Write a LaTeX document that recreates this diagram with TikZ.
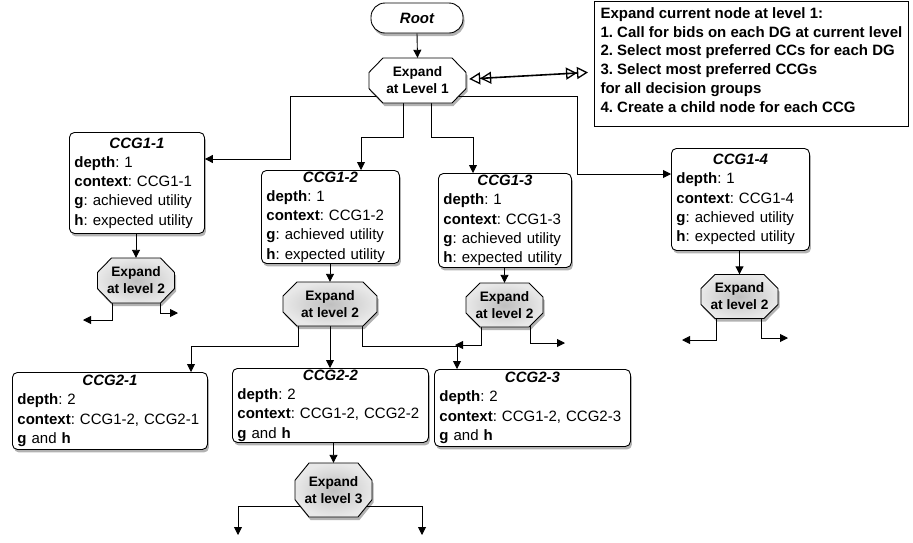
\documentclass[tikz,border=0pt]{standalone}
\usepackage{fontspec}
\setmainfont{Liberation Sans}
\usetikzlibrary{arrows.meta,shadows,backgrounds}
\frenchspacing

\tikzset{
  arr/.style={line width=0.9pt,-{Triangle[length=8pt,width=8pt]}},
  dbl/.style={line width=1.6pt,
    {Triangle[open,length=11pt,width=12pt,line width=1.3pt]Triangle[open,length=11pt,width=12pt,line width=1.3pt]}-{Triangle[open,length=11pt,width=12pt,line width=1.3pt]Triangle[open,length=11pt,width=12pt,line width=1.3pt]}},
  shad/.style={drop shadow={shadow xshift=1.5pt,shadow yshift=-3pt,opacity=0.3,fill=black}},
  ccg/.style={draw,line width=0.9pt,rounded corners=5pt,fill=white,shad,anchor=north west,
    align=left,inner xsep=5pt,inner ysep=1pt,font=\fontsize{15pt}{19.3pt}\selectfont},
  rootbox/.style={draw,line width=0.9pt,rounded corners=14pt,fill=white,shad,
    minimum width=92pt,minimum height=30pt,font=\fontsize{15pt}{18pt}\selectfont\bfseries\itshape},
  notebox/.style={draw,line width=0.8pt,anchor=north west,align=left,inner xsep=3pt,inner ysep=2pt,
    minimum width=314pt,minimum height=125pt,font=\fontsize{15pt}{18.8pt}\selectfont\bfseries},
  octline/.style={draw,line width=0.9pt,shad},
  octwhite/.style={fill=white},
  octgray/.style={inner color=gray!50,outer color=gray!18},
  octtext/.style={inner sep=0pt,align=center,font=\fontsize{13.7pt}{17pt}\selectfont\bfseries},
}

\newcommand\ttl[1]{\makebox[\linewidth]{\bfseries\itshape #1}\\}
% #1 fill style, #2 name, #3 cx, #4 cy, #5 w, #6 h, #7 text
\newcommand\octo[7]{%
  \pgfmathsetmacro\octhx{#5/2}%
  \pgfmathsetmacro\octhy{#6/2}%
  \pgfmathsetmacro\octcv{0.32*#6}%
  \path[octline,#1] ({#3-\octhx+14},{#4-\octhy}) -- ({#3+\octhx-14},{#4-\octhy})
    -- ({#3+\octhx},{#4-\octhy+\octcv}) -- ({#3+\octhx},{#4+\octhy-\octcv})
    -- ({#3+\octhx-14},{#4+\octhy}) -- ({#3-\octhx+14},{#4+\octhy})
    -- ({#3-\octhx},{#4+\octhy-\octcv}) -- ({#3-\octhx},{#4-\octhy+\octcv}) -- cycle;
  \node[octtext,minimum width=#5pt,minimum height=#6pt] (#2) at (#3,#4) {#7};
}

\begin{document}
\begin{tikzpicture}[x=1pt,y=-1pt]
\useasboundingbox (0,0) rectangle (913,542);

% root and level 1
\node[rootbox] (root) at (417,18) {Root};
\octo{octwhite}{e1}{417.5}{80.5}{97}{45}{Expand\\at Level 1}

\node[notebox] (note) at (594,1) {Expand current node at level 1:\\
1. Call for bids on each DG at current level\\
2. Select most preferred CCs for each DG\\
3. Select most preferred CCGs\\
for all decision groups\\
4. Create a child node for each CCG\\[-10.8pt]\mbox{}};

% level-1 children
\node[ccg,text width=125pt,minimum height=101pt] (c11) at (69,132)
  {\ttl{CCG1-1}\textbf{depth}: 1\\\textbf{context}: CCG1-1\\\textbf{g}: achieved utility\\\textbf{h}: expected utility};
\node[ccg,text width=128pt,minimum height=93pt] (c12) at (261,170)
  {\ttl{CCG1-2}\textbf{depth}: 1\\\textbf{context}: CCG1-2\\\textbf{g}: achieved utility\\\textbf{h}: expected utility};
\node[ccg,text width=123pt,minimum height=94pt] (c13) at (438,173)
  {\ttl{CCG1-3}\textbf{depth}: 1\\\textbf{context}: CCG1-3\\\textbf{g}: achieved utility\\\textbf{h}: expected utility};
\node[ccg,text width=128pt,minimum height=102pt] (c14) at (671,148)
  {\ttl{CCG1-4}\textbf{depth}: 1\\\textbf{context}: CCG1-4\\\textbf{g}: achieved utility\\\textbf{h}: expected utility};

% level-2 expansions
\octo{octgray}{o11}{136}{280.5}{77}{45}{Expand\\at level 2}
\octo{octgray}{o12}{330}{304}{94}{44}{Expand\\at level 2}
\octo{octgray}{o13}{504.5}{305}{77}{44}{Expand\\at level 2}
\octo{octgray}{o14}{739.5}{296.5}{77}{44}{Expand\\at level 2}

% level-2 children
\node[ccg,text width=185pt,minimum height=77pt] (c21) at (12,372)
  {\ttl{CCG2-1}\textbf{depth}: 2\\\textbf{context}: CCG1-2, CCG2-1\\\textbf{g} and \textbf{h}};
\node[ccg,text width=186pt,minimum height=74pt] (c22) at (232,368)
  {\ttl{CCG2-2}\textbf{depth}: 2\\\textbf{context}: CCG1-2, CCG2-2\\\textbf{g} and \textbf{h}};
\node[ccg,text width=186pt,minimum height=77pt] (c23) at (434,369)
  {\ttl{CCG2-3}\textbf{depth}: 2\\\textbf{context}: CCG1-2, CCG2-3\\\textbf{g} and \textbf{h}};

% level-3 expansion
\octo{octgray}{o3}{333.5}{490}{77}{54}{Expand\\at level 3}

% bend points and free ends
\coordinate (k1) at (290,159);
\coordinate (k2) at (361,137);
\coordinate (k3) at (473,137);
\coordinate (k4) at (577,174);
\coordinate (k5) at (191,346);
\coordinate (k6) at (457,346);
\coordinate (s11l) at (83,320);
\coordinate (s11r) at (178,313);
\coordinate (s13l) at (455,345);
\coordinate (s13r) at (565,343);
\coordinate (s14l) at (682,340);
\coordinate (s14r) at (788,338);
\coordinate (s3l) at (238,535);
\coordinate (s3r) at (422,535);

\begin{pgfonlayer}{background}
\draw[arr] (root.south) -- (e1.north);
\draw[dbl] ([xshift=3pt,yshift=1.5pt]e1.east) -- ([xshift=-6pt,yshift=-8.5pt]note.west);

\draw[arr] ([yshift=-15.5pt]e1.center) -| (k1) -- (c11.east |- k1);
\draw[arr] ([xshift=-14.5pt]e1.center) |- (k2) -- (k2 |- c12.north);
\draw[arr] ([xshift=13.5pt]e1.center) |- (k3) -- (k3 |- c13.north);
\draw[arr] ([yshift=-15.5pt]e1.center) -| (k4) -- (k4 -| c14.west);

\draw[arr] (o11.north |- c11.south) -- (o11.north);
\draw[arr] (o12.north |- c12.south) -- (o12.north);
\draw[arr] (o13.north |- c13.south) -- (o13.north);
\draw[arr] (o14.north |- c14.south) -- (o14.north);

\draw[arr] ([xshift=-24pt]o11.center) |- (s11l);
\draw[arr] ([xshift=24pt]o11.center) |- (s11r);

\draw[arr] ([xshift=-32pt]o12.center) |- (k5) -- (k5 |- c21.north);
\draw[arr] (o12.center) -- (o12.center |- c22.north);
\draw[arr] ([xshift=32pt]o12.center) |- (k6) -- (k6 |- c23.north);

\draw[arr] ([xshift=-23.5pt]o13.center) |- (s13l);
\draw[arr] ([xshift=25.5pt]o13.center) |- (s13r);

\draw[arr] ([xshift=-23.5pt]o14.center) |- (s14l);
\draw[arr] ([xshift=21.5pt]o14.center) |- (s14r);

\draw[arr] (o3.north |- c22.south) -- (o3.north);
\draw[arr] ([yshift=-16pt]o3.center) -| (s3l);
\draw[arr] ([yshift=-16pt]o3.center) -| (s3r);
\end{pgfonlayer}
\end{tikzpicture}
\end{document}
